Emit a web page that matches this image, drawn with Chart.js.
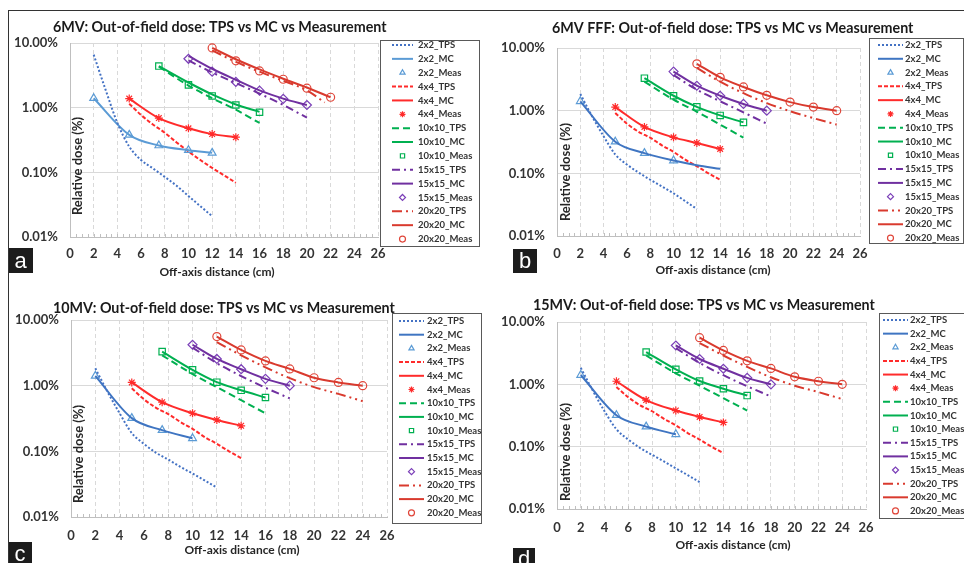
<!DOCTYPE html>
<html>
<head>
<meta charset="utf-8">
<script src="https://cdn.jsdelivr.net/npm/chart.js@4.4.1/dist/chart.umd.min.js"></script>
<style>
  body { margin: 0; background: #fff; }
  #wrap { position: relative; width: 964px; height: 563px; overflow: hidden; background: #fff; }
  #wrap canvas { position: absolute; }
  #frame { position: absolute; left: 8px; top: 10px; width: 960px; height: 560px;
           border-top: 1.5px solid #333; border-left: 1.5px solid #333; pointer-events: none; }
</style>
</head>
<body>
<div id="wrap">
  <canvas id="panel_a" width="482" height="285" style="left:0;top:0"></canvas>
  <canvas id="panel_b" width="482" height="285" style="left:482px;top:0"></canvas>
  <canvas id="panel_c" width="482" height="278" style="left:0;top:285px"></canvas>
  <canvas id="panel_d" width="482" height="278" style="left:482px;top:285px"></canvas>
  <div id="frame"></div>
</div>
<script>
// field sizes (same for every panel)
const fields = ['2x2', '4x4', '10x10', '15x15', '20x20'];
const xTicks = [0, 2, 4, 6, 8, 10, 12, 14, 16, 18, 20, 22, 24, 26];
const yTicks = [0.01, 0.1, 1, 10];

// 6MV
const a_tpsX = [[2,3,4,5,6,7,8,9,10,11,12], [5,6,7,8,9,10,11,12,13,14], [7.5,10,12,14,16], [10,12,14,16,18,20], [12,14,16,18,20,21.5]];
const a_tpsY = [[6.6,1.9,0.58,0.25,0.155,0.115,0.085,0.062,0.043,0.030,0.021], [1.15,0.77,0.55,0.41,0.29,0.21,0.155,0.117,0.09,0.069], [4.3,2.2,1.4,0.93,0.58], [5.4,3.5,2.4,1.65,1.1,0.7], [7.7,5.1,3.6,2.6,1.85,1.2]];
const a_mcX = [[2,5,7.5,10,12], [5,7.5,10,12,14], [7.5,10,12,14,16], [10,12,14,16,18,20], [12,14,16,18,20,22]];
const a_mcY = [[1.4,0.38,0.26,0.22,0.2], [1.38,0.69,0.48,0.39,0.35], [4.4,2.45,1.6,1.12,0.86], [6.3,4.0,2.7,1.85,1.38,1.1], [8.4,5.6,3.9,2.8,2.05,1.45]];
const a_measX = [[2,5,7.5,10,12], [5,7.5,10,12,14], [7.5,10,12,14,16], [10,12,14,16,18,20], [12,14,16,18,20,22]];
const a_measY = [[1.4,0.38,0.26,0.22,0.2], [1.38,0.69,0.48,0.39,0.35], [4.4,2.25,1.52,1.1,0.85], [5.7,3.6,2.5,1.83,1.37,1.1], [8.4,5.3,3.7,2.75,2.0,1.45]];

// 6MV FFF
const b_tpsX = [[2,3,4,5,6,7,8,9,10,11,12], [5,6,7,8,9,10,11,12,13,14], [7.5,10,12,14,16], [10,12,14,16,18], [12,14,16,18,20,22,24]];
const b_tpsY = [[1.85,0.82,0.39,0.2,0.138,0.103,0.079,0.062,0.048,0.036,0.027], [0.92,0.62,0.46,0.37,0.28,0.22,0.165,0.13,0.1,0.079], [2.9,1.5,0.96,0.6,0.37], [3.7,2.16,1.41,0.94,0.62], [4.8,2.9,1.9,1.32,0.98,0.76,0.6]];
const b_mcX = [[2,5,7.5,10,12,14], [5,7.5,10,12,14], [7.5,10,12,14,16], [10,12,14,16,18], [12,14,16,18,20,22,24]];
const b_mcY = [[1.41,0.32,0.21,0.16,0.135,0.118], [1.14,0.55,0.375,0.305,0.245], [3.3,1.73,1.15,0.84,0.65], [4.2,2.5,1.73,1.28,1.0], [5.6,3.4,2.39,1.76,1.37,1.14,1.0]];
const b_measX = [[2,5,7.5,10], [5,7.5,10,12,14], [7.5,10,12,14,16], [10,12,14,16,18], [12,14,16,18,20,22,24]];
const b_measY = [[1.41,0.32,0.21,0.16], [1.14,0.55,0.375,0.305,0.245], [3.3,1.73,1.15,0.84,0.65], [4.2,2.5,1.73,1.28,1.0], [5.6,3.4,2.39,1.76,1.37,1.14,1.0]];

// 10MV
const c_tpsX = [[2,3,4,5,6,7,8,9,10,11,12], [5,6,7,8,9,10,11,12,13,14], [7.5,10,12,14,16], [10,12,14,16,18], [12,14,16,18,20,22,24]];
const c_tpsY = [[1.84,0.81,0.38,0.19,0.13,0.095,0.075,0.058,0.046,0.036,0.028], [0.91,0.62,0.46,0.37,0.28,0.22,0.165,0.13,0.1,0.079], [2.9,1.5,0.95,0.6,0.38], [3.8,2.2,1.4,0.93,0.64], [4.6,2.9,1.9,1.3,0.95,0.75,0.58]];
const c_mcX = [[2,5,7.5,10], [5,7.5,10,12,14], [7.5,10,12,14,16], [10,12,14,16,18], [12,14,16,18,20,22,24]];
const c_mcY = [[1.41,0.32,0.21,0.158], [1.12,0.56,0.38,0.30,0.245], [3.3,1.74,1.13,0.85,0.66], [4.2,2.55,1.78,1.27,1.0], [5.6,3.5,2.38,1.8,1.32,1.12,1.0]];
const c_measX = [[2,5,7.5,10], [5,7.5,10,12,14], [7.5,10,12,14,16], [10,12,14,16,18], [12,14,16,18,20,22,24]];
const c_measY = [[1.41,0.32,0.21,0.158], [1.12,0.56,0.38,0.30,0.245], [3.3,1.74,1.13,0.85,0.66], [4.2,2.55,1.78,1.27,1.0], [5.6,3.5,2.38,1.8,1.32,1.12,1.0]];

// 15MV
const d_tpsX = [[2,3,4,5,6,7,8,9,10,11,12], [5,6,7,8,9,10,11,12,13,14], [7.5,10,12,14,16], [10,12,14,16,18], [12,14,16,18,20,22,24]];
const d_tpsY = [[1.84,0.8,0.37,0.19,0.13,0.095,0.074,0.058,0.045,0.035,0.027], [0.91,0.62,0.46,0.37,0.28,0.22,0.165,0.13,0.1,0.079], [2.9,1.5,0.95,0.6,0.38], [3.8,2.2,1.4,0.93,0.64], [4.6,2.9,1.9,1.3,0.95,0.75,0.58]];
const d_mcX = [[2,5,7.5,10], [5,7.5,10,12,14], [7.5,10,12,14,16], [10,12,14,16,18], [12,14,16,18,20,22,24]];
const d_mcY = [[1.41,0.32,0.21,0.158], [1.12,0.56,0.38,0.30,0.245], [3.3,1.74,1.13,0.85,0.66], [4.2,2.55,1.78,1.27,1.0], [5.6,3.5,2.38,1.8,1.32,1.12,1.0]];
const d_measX = [[2,5,7.5,10], [5,7.5,10,12,14], [7.5,10,12,14,16], [10,12,14,16,18], [12,14,16,18,20,22,24]];
const d_measY = [[1.41,0.32,0.21,0.158], [1.12,0.56,0.38,0.30,0.245], [3.3,1.74,1.13,0.85,0.66], [4.2,2.55,1.78,1.27,1.0], [5.6,3.5,2.38,1.8,1.32,1.12,1.0]];

// styles
const tpsColor = ['#4472C4', '#FF2B2B', '#00B050', '#7030A0', '#D93A2E'];
const mcColor = ['#3F75C2', '#FF2B2B', '#00B050', '#7030A0', '#D93A2E'];
const measColor = ['#5B9BD5', '#FF2B2B', '#00B050', '#7B3FB8', '#E0463A'];
const tpsDash = [[2, 2], [4, 2], [7, 4], [8, 4, 2, 4], [10, 4, 2, 4, 2, 4]];
const measStyle = ['triangle', 'star', 'rect', 'rectRot', 'circle'];
const measSize = [4.5, 4, 4.5, 4.5, 4];

Chart.defaults.font.family = 'Lato, "Open Sans", sans-serif';

function pts(xs, ys) {
  return xs.map(function (x, j) { return { x: x, y: ys[j] }; });
}

function buildSets(tpsX, tpsY, mcX, mcY, measX, measY, firstMcColor) {
  var sets = [];
  fields.forEach(function (f, i) {
    sets.push({
      label: f + '_TPS', data: pts(tpsX[i], tpsY[i]),
      borderColor: tpsColor[i], borderWidth: 2, borderDash: tpsDash[i],
      pointRadius: 0, cubicInterpolationMode: 'monotone'
    });
    sets.push({
      label: f + '_MC', data: pts(mcX[i], mcY[i]),
      borderColor: i == 0 ? firstMcColor : mcColor[i], borderWidth: 2,
      pointRadius: 0, cubicInterpolationMode: 'monotone'
    });
    sets.push({
      label: f + '_Meas', data: pts(measX[i], measY[i]), showLine: false,
      pointStyle: measStyle[i], pointRadius: measSize[i], borderWidth: 1.2,
      borderColor: measColor[i], pointBorderColor: measColor[i],
      pointBackgroundColor: 'rgba(255,255,255,0)', backgroundColor: 'rgba(255,255,255,0)'
    });
  });
  return sets;
}

// titles, axis labels, panel letter and boxed legend
const decor = {
  id: 'decor',
  afterDraw: function (chart) {
    var o = chart.options.plugins.decor;
    var ctx = chart.ctx;
    var xs = chart.scales.x, ys = chart.scales.y;
    ctx.save();

    // minor tick marks on the x axis
    ctx.strokeStyle = '#BFBFBF'; ctx.lineWidth = 1; ctx.setLineDash([]);
    for (var v = 0.5; v < 26; v += 0.5) {
      var px = Math.round(xs.getPixelForValue(v)) + 0.5;
      ctx.beginPath(); ctx.moveTo(px, ys.bottom); ctx.lineTo(px, ys.bottom - 3); ctx.stroke();
    }

    ctx.fillStyle = '#1a1a1a';
    ctx.textBaseline = 'middle';
    ctx.font = 'bold 14.3px Lato';
    ctx.textAlign = 'left';
    ctx.fillText(o.title, o.titleX, o.titleY);

    ctx.fillStyle = '#262626';
    ctx.font = 'bold 12px Lato';
    ctx.textAlign = 'center';
    ctx.fillText('Off-axis distance (cm)', o.xlabX, o.xlabY);
    ctx.save();
    ctx.translate(o.ylabX, o.ylabY);
    ctx.rotate(-Math.PI / 2);
    ctx.font = 'bold 13px Lato';
    ctx.fillText('Relative dose (%)', 0, 0);
    ctx.restore();

    // panel letter
    ctx.fillStyle = '#1c1c1c';
    ctx.fillRect(o.tag[0], o.tag[1], o.tag[2], o.tag[3]);
    ctx.fillStyle = '#ffffff';
    ctx.font = '22px "Liberation Sans", Arial, sans-serif';
    ctx.fillText(o.letter, o.tag[0] + o.tag[2] / 2, o.tag[1] + o.tag[3] / 2 + 1);

    // legend
    var L = o.legend;
    ctx.strokeStyle = '#595959'; ctx.lineWidth = 1;
    ctx.strokeRect(L.x + 0.5, L.y + 0.5, L.w, L.h);
    ctx.font = 'bold 9.5px Lato';
    ctx.textAlign = 'left';
    chart.data.datasets.forEach(function (ds, i) {
      var y = L.y0 + i * L.step;
      ctx.setLineDash([]);
      if (ds.showLine === false) {
        ctx.strokeStyle = ds.borderColor;
        ctx.fillStyle = 'rgba(255,255,255,0)';
        ctx.lineWidth = 1.2;
        Chart.helpers.drawPoint(ctx, { pointStyle: ds.pointStyle, radius: 3, borderWidth: 1.2, rotation: 0 }, (L.lx0 + L.lx1) / 2, y);
      } else {
        ctx.strokeStyle = ds.borderColor;
        ctx.lineWidth = 2;
        ctx.setLineDash(ds.borderDash || []);
        ctx.beginPath(); ctx.moveTo(L.lx0, y); ctx.lineTo(L.lx1, y); ctx.stroke();
      }
      ctx.setLineDash([]);
      ctx.fillStyle = '#333333';
      ctx.fillText(ds.label, L.tx, y);
    });
    ctx.restore();
  }
};

function makePanel(id, sets, p) {
  return new Chart(document.getElementById(id), {
    type: 'line',
    data: { datasets: sets },
    plugins: [decor],
    options: {
      responsive: false,
      animation: false,
      devicePixelRatio: 1,
      layout: { padding: { left: 0, right: p.padR, top: p.padT, bottom: 0 } },
      plugins: {
        legend: { display: false },
        title: { display: false },
        tooltip: { enabled: false },
        decor: p.decor
      },
      scales: {
        x: {
          type: 'linear', min: 0, max: 26,
          afterBuildTicks: function (s) { s.ticks = xTicks.map(function (v) { return { value: v }; }); },
          afterFit: function (s) { s.height = p.xH; },
          ticks: { font: { size: 13, weight: 'bold' }, color: '#333', padding: p.xPad, maxRotation: 0 },
          grid: { color: '#D9D9D9', drawTicks: false },
          border: { color: '#BFBFBF', dash: [4, 3] }
        },
        y: {
          type: 'logarithmic', min: 0.01, max: 10,
          afterBuildTicks: function (s) { s.ticks = yTicks.map(function (v) { return { value: v }; }); },
          afterFit: function (s) { s.width = p.yW; },
          ticks: {
            font: { size: 13, weight: 'bold' }, color: '#333', padding: 12,
            callback: function (v) { return Number(v).toFixed(2) + '%'; }
          },
          grid: { color: '#D9D9D9', drawTicks: false },
          border: { color: '#BFBFBF' }
        }
      }
    }
  });
}

makePanel('panel_a', buildSets(a_tpsX, a_tpsY, a_mcX, a_mcY, a_measX, a_measY, '#5B9BD5'), {
  padR: 104, padT: 43, yW: 70, xH: 48, xPad: 9,
  decor: {
    title: '6MV: Out-of-field dose: TPS vs MC vs Measurement', titleX: 53, titleY: 27,
    xlabX: 217, xlabY: 272, ylabX: 78, ylabY: 166,
    letter: 'a', tag: [8, 248, 25, 25],
    legend: { x: 380, y: 40, w: 99, h: 206, lx0: 392, lx1: 413, tx: 418, y0: 45, step: 13.86 }
  }
});

makePanel('panel_b', buildSets(b_tpsX, b_tpsY, b_mcX, b_mcY, b_measX, b_measY, '#3F75C2'), {
  padR: 104, padT: 48, yW: 75, xH: 49, xPad: 10,
  decor: {
    title: '6MV FFF: Out-of-field dose: TPS vs MC vs Measurement', titleX: 70, titleY: 28,
    xlabX: 231, xlabY: 270, ylabX: 84, ylabY: 172,
    letter: 'b', tag: [31, 249, 24, 24],
    legend: { x: 387, y: 38, w: 94, h: 205, lx0: 396, lx1: 421, tx: 423, y0: 45, step: 13.79 }
  }
});

makePanel('panel_c', buildSets(c_tpsX, c_tpsY, c_mcX, c_mcY, c_measX, c_measY, '#3F75C2'), {
  padR: 95, padT: 35, yW: 71, xH: 46, xPad: 11,
  decor: {
    title: '10MV: Out-of-field dose: TPS vs MC vs Measurement', titleX: 53, titleY: 23,
    xlabX: 242, xlabY: 265, ylabX: 79, ylabY: 169,
    letter: 'c', tag: [8, 257, 24, 24],
    legend: { x: 392, y: 28, w: 89, h: 210, lx0: 399, lx1: 424, tx: 427, y0: 36, step: 13.7 }
  }
});

makePanel('panel_d', buildSets(d_tpsX, d_tpsY, d_mcX, d_mcY, d_measX, d_measY, '#3F75C2'), {
  padR: 98, padT: 37, yW: 75, xH: 54, xPad: 11,
  decor: {
    title: '15MV: Out-of-field dose: TPS vs MC vs Measurement', titleX: 51, titleY: 20,
    xlabX: 251, xlabY: 260, ylabX: 84, ylabY: 167,
    letter: 'd', tag: [31, 263, 22, 22],
    legend: { x: 397, y: 28, w: 85, h: 205, lx0: 401, lx1: 426, tx: 428, y0: 35, step: 13.64 }
  }
});
</script>
</body>
</html>
